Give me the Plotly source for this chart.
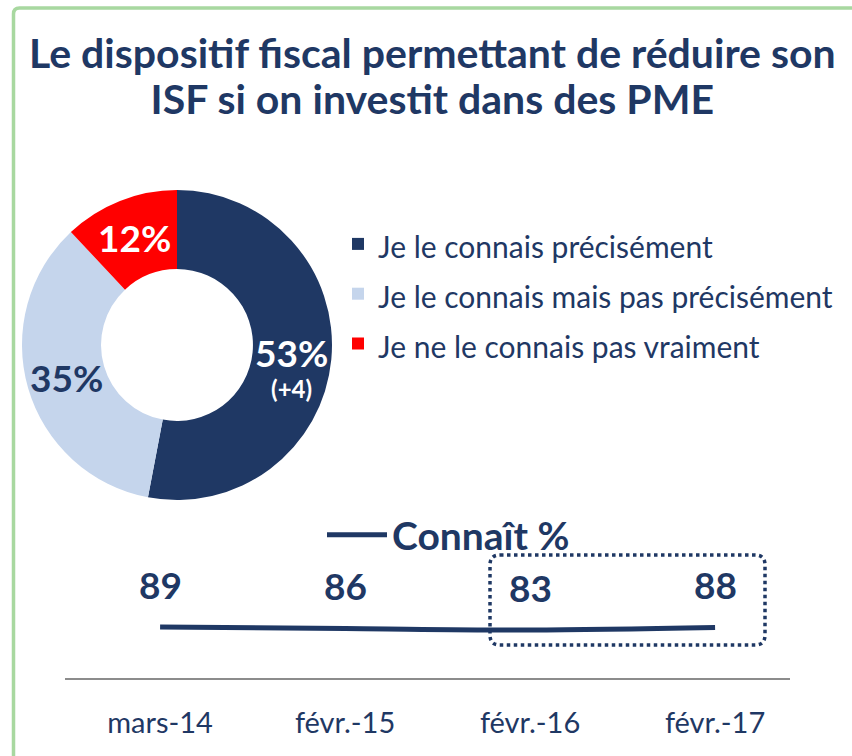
import math
import plotly.graph_objects as go

NAVY = "#1F3864"
LIGHT = "#C5D5EC"
RED = "#FF0000"
GREEN = "#A8D8A0"
FONT = "Lato"

# Pie data
pie_labels = ["Je le connais précisément", "Je le connais mais pas précisément", "Je ne le connais pas vraiment"]
pie_values = [53, 35, 12]
pie_notes = ["(+4)", "", ""]
pie_colors = [NAVY, LIGHT, RED]
pie_text_colors = ["white", NAVY, "white"]

# Line data
periods = ["mars-14", "févr.-15", "févr.-16", "févr.-17"]
connait = [89, 86, 83, 88]

W, H = 852, 756
# donut geometry (pixels)
CX, CY, R_OUT, HOLE = 177, 345, 155, 0.49

fig = go.Figure()

fig.add_trace(go.Pie(
    labels=[f"<span style='font-size:30px'>{l}</span>" for l in pie_labels],
    values=pie_values, textinfo="none",
    hole=HOLE, sort=False, direction="clockwise", rotation=0,
    marker=dict(colors=pie_colors, line=dict(width=0)),
    domain=dict(x=[(CX - R_OUT) / W, (CX + R_OUT) / W],
                y=[1 - (CY + R_OUT) / H, 1 - (CY - R_OUT) / H]),
    hoverinfo="percent", legend="legend", showlegend=True,
))

# slice labels placed at each slice's mid-angle on the ring's mid-radius
total = sum(pie_values)
r_mid = R_OUT * (1 + HOLE) / 2
cum = 0
for v, note, col in zip(pie_values, pie_notes, pie_text_colors):
    th = 2 * math.pi * (cum + v / 2) / total
    cum += v
    px = CX + r_mid * math.sin(th)
    py = CY - r_mid * math.cos(th)
    if note:
        fig.add_annotation(x=px / W, y=1 - py / H, xref="paper", yref="paper",
                           xanchor="center", yanchor="top", yshift=27,
                           text=f"<span style='font-size:37px'><b>{v}%</b></span><br><b>{note}</b>",
                           showarrow=False, borderpad=0,
                           font=dict(family=FONT, size=24, color=col))
    else:
        fig.add_annotation(x=px / W, y=1 - py / H, xref="paper", yref="paper",
                           xanchor="center", yanchor="middle",
                           text=f"<b>{v}%</b>", showarrow=False,
                           font=dict(family=FONT, size=37, color=col))

fig.add_trace(go.Scatter(
    x=periods, y=connait, mode="lines", name="Connaît %",
    line=dict(color=NAVY, width=5, shape="spline"),
    legend="legend2", showlegend=True, hoverinfo="x+y",
))

for p, v in zip(periods, connait):
    fig.add_annotation(x=p, y=v, xref="x", yref="y", text=f"<b>{v}</b>",
                       showarrow=False, yshift=43,
                       font=dict(family=FONT, size=37, color=NAVY))

# dotted rounded box (decoration)
x0, x1, y0, y1, r = 490 / W, 765 / W, 1 - 645 / H, 1 - 555 / H, 10
rx, ry = r / W, r / H
path = (f"M{x0+rx},{y1} L{x1-rx},{y1} Q{x1},{y1} {x1},{y1-ry} L{x1},{y0+ry} "
        f"Q{x1},{y0} {x1-rx},{y0} L{x0+rx},{y0} Q{x0},{y0} {x0},{y0+ry} "
        f"L{x0},{y1-ry} Q{x0},{y1} {x0+rx},{y1} Z")
fig.add_shape(type="path", path=path, xref="paper", yref="paper",
              line=dict(color=NAVY, width=3.5, dash="dot"))

# green frame (decoration)
gx, gy, gr = 13.5 / W, 1 - 8 / H, 6
frame = (f"M{gx},0 L{gx},{gy - gr / H} Q{gx},{gy} {gx + gr / W},{gy} L1.01,{gy}")
fig.add_shape(type="path", path=frame, xref="paper", yref="paper",
              line=dict(color=GREEN, width=3.5))

fig.add_annotation(
    text=("<span style='font-size:41px'><b>Le dispositif fiscal permettant de réduire son</b></span><br>"
          "<span style='font-size:41px'><b>ISF si on investit dans des PME</b></span>"),
    xref="paper", yref="paper", x=432 / W, xanchor="center", y=1 - 76 / H, yanchor="middle",
    showarrow=False, font=dict(family=FONT, size=35, color=NAVY))

fig.update_layout(
    width=W, height=H, margin=dict(l=0, r=0, t=0, b=0),
    paper_bgcolor="white", plot_bgcolor="white",
    legend=dict(x=338 / W, xanchor="left", y=1 - 214 / H, yanchor="top",
                font=dict(family=FONT, size=36, color=NAVY), bgcolor="rgba(0,0,0,0)",
                tracegroupgap=0),
    legend2=dict(x=322 / W, xanchor="left", y=1 - 535 / H, yanchor="middle",
                 orientation="h", itemwidth=60,
                 font=dict(family=FONT, size=39, color=NAVY, weight="bold"),
                 bgcolor="rgba(0,0,0,0)"),
    xaxis=dict(domain=[65 / W, 790 / W], range=[-0.514, 3.405], type="category",
               showline=True, linecolor="#8C8C8C", linewidth=2, showgrid=False,
               zeroline=False, ticks="outside", ticklen=18, tickcolor="rgba(0,0,0,0)",
               tickfont=dict(family=FONT, size=29, color=NAVY)),
    yaxis=dict(domain=[1 - 678 / H, 1 - 540 / H], range=[-13, 263], visible=False),
    showlegend=True,
)

fig.write_html("out.html", config={"displayModeBar": False},
               post_script="document.body.style.margin='0';")
